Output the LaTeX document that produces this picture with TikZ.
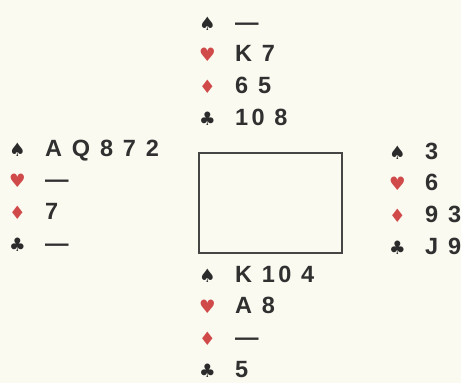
\documentclass[tikz,border=0pt]{standalone}
\usepackage{fontspec}
\setmainfont{Liberation Sans}[LetterSpace=14]
\newfontfamily\suitfont{DejaVu Sans}
\usepackage{xcolor}
\usetikzlibrary{positioning}

\definecolor{paper}{HTML}{FBFAF1}
\definecolor{ink}{HTML}{303030}
\definecolor{suitred}{HTML}{D04A4A}
\definecolor{suitblack}{HTML}{2B2B2B}

\newcommand{\suit}[2]{\makebox[36pt][l]{\textcolor{#1}{\suitfont\fontsize{18.5}{22}\selectfont #2}}}
\newcommand{\Sp}{\suit{suitblack}{♠}}
\newcommand{\He}{\suit{suitred}{♥}}
\newcommand{\Di}{\suit{suitred}{♦}}
\newcommand{\Cl}{\suit{suitblack}{♣}}

\tikzset{
  row/.style={anchor=west, inner sep=0pt, text height=16pt, text depth=4pt,
    text=ink, font=\bfseries\fontsize{23.5}{26}\selectfont},
  table/.style={draw=ink!90, line width=2pt, minimum width=143pt, minimum height=100pt, inner sep=0pt}
}

\begin{document}
\begin{tikzpicture}[x=1pt, y=-1pt, node distance=11.5pt]
    \fill[paper] (0,0) rectangle (461,383);
    \useasboundingbox (0,0) rectangle (461,383);

    % table
    \node[table] (table) at (270.5,203) {};

    % north
    \node[row] (nS) at (199,24) {\Sp —};
    \node[row, below=of nS.south west, anchor=north west] (nH) {\He K 7};
    \node[row, below=of nH.south west, anchor=north west] (nD) {\Di 6 5};
    \node[row, below=of nD.south west, anchor=north west] (nC) {\Cl 10 8};

    % west
    \node[row] (wS) at (9,150) {\Sp A Q 8 7 2};
    \node[row, below=of wS.south west, anchor=north west] (wH) {\He —};
    \node[row, below=of wH.south west, anchor=north west] (wD) {\Di 7};
    \node[row, below=of wD.south west, anchor=north west] (wC) {\Cl —};

    % east
    \node[row] (eS) at (389,153) {\Sp 3};
    \node[row, below=of eS.south west, anchor=north west] (eH) {\He 6};
    \node[row, below=of eH.south west, anchor=north west] (eD) {\Di 9 3};
    \node[row, below=of eD.south west, anchor=north west] (eC) {\Cl J 9};

    % south
    \node[row] (sS) at (199,276) {\Sp K 10 4};
    \node[row, below=of sS.south west, anchor=north west] (sH) {\He A 8};
    \node[row, below=of sH.south west, anchor=north west] (sD) {\Di —};
    \node[row, below=of sD.south west, anchor=north west] (sC) {\Cl 5};
\end{tikzpicture}
\end{document}
